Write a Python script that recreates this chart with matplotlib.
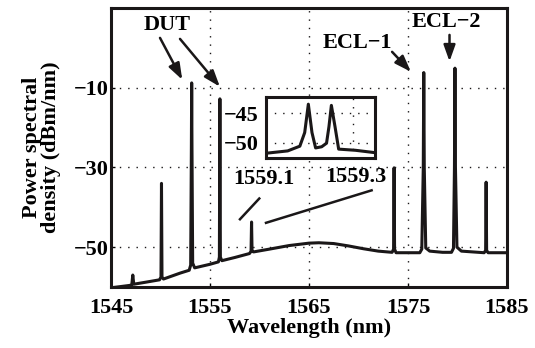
import matplotlib
matplotlib.use('Agg')
import matplotlib.pyplot as plt

# main spectrum (nm, dBm/nm)
wavelength = [1545.0, 1546.9, 1547.1, 1547.2, 1547.3, 1548.5, 1549.9, 1550.05, 1550.1, 1550.15,
              1550.3, 1552.0, 1552.9, 1553.05, 1553.12, 1553.15, 1553.18, 1553.25, 1553.45, 1555.0,
              1555.85, 1555.95, 1556.0, 1556.05, 1556.2, 1557.5, 1559.0, 1559.15, 1559.2, 1559.25,
              1559.4, 1561.0, 1563.0, 1565.0, 1566.0, 1567.5, 1569.0, 1570.5, 1572.0, 1573.4,
              1573.55, 1573.6, 1573.65, 1573.8, 1576.2, 1576.4, 1576.55, 1576.6, 1576.65, 1576.8,
              1577.2, 1578.5, 1579.4, 1579.6, 1579.7, 1579.75, 1579.8, 1579.95, 1580.4, 1582.7,
              1582.85, 1582.9, 1582.95, 1583.1, 1585.0]
power = [-60.2, -59.6, -59.4, -57.0, -59.3, -58.8, -58.2, -57.5, -34.0, -57.5,
         -58.0, -56.5, -55.8, -54.5, -25.0, -8.8, -25.0, -54.0, -55.2, -54.3,
         -53.7, -52.5, -12.8, -52.5, -53.4, -52.6, -51.6, -51.0, -43.7, -51.0,
         -51.2, -50.5, -49.6, -49.0, -48.9, -49.1, -49.7, -50.4, -51.0, -51.3,
         -50.5, -30.1, -50.5, -51.4, -51.4, -50.5, -30.0, -6.2, -30.0, -50.2,
         -51.0, -51.3, -51.3, -50.3, -30.0, -5.1, -30.0, -50.0, -51.0, -51.4,
         -50.8, -33.7, -50.8, -51.4, -51.4]

# zoomed view around 1559.1 / 1559.3 nm
inset_wl = [1558.75, 1558.93, 1559.03, 1559.07, 1559.10, 1559.13, 1559.16, 1559.21, 1559.25,
            1559.27, 1559.29, 1559.32, 1559.35, 1559.49, 1559.65]
inset_pw = [-51.8, -51.4, -50.6, -48.3, -43.5, -48.3, -50.9, -50.7, -50.1,
            -47.3, -43.7, -47.3, -51.1, -51.3, -51.7]

x_ticks = [1545, 1555, 1565, 1575, 1585]
y_ticks = [-50, -30, -10]
inset_y_ticks = [-50, -45]

plt.rcParams['font.family'] = ['Liberation Serif', 'DejaVu Serif']
plt.rcParams['font.weight'] = 'bold'
plt.rcParams['axes.unicode_minus'] = True

FS = 16
INK = '#1a1718'

fig = plt.figure(figsize=(5.35, 3.48), dpi=100)
ax = fig.add_axes([0.2075, 0.1753, 0.740, 0.8017])

ax.plot(wavelength, power, color=INK, lw=2.2, solid_joinstyle='round', zorder=3)
ax.set_xlim(1545, 1585)
ax.set_ylim(-60, 10)
ax.set_xticks(x_ticks)
ax.set_yticks(y_ticks)
ax.tick_params(direction='in', length=3, width=1, labelsize=FS, pad=2)
ax.tick_params(axis='x', pad=8)
ax.grid(True, color=INK, linestyle=(0, (1, 5)), lw=1)
for s in ax.spines.values():
    s.set_linewidth(2.2)
    s.set_color(INK)

ax.set_xlabel('Wavelength (nm)', fontsize=FS, fontweight='bold', labelpad=0)
ax.set_ylabel('Power spectral\ndensity (dBm/nm)', fontsize=FS, fontweight='bold',
              linespacing=0.92, labelpad=9)

arrow = dict(arrowstyle='-|>,head_length=0.7,head_width=0.25', lw=1.8,
             color=INK, shrinkA=0, shrinkB=0, mutation_scale=14)
ax.text(1550.66, 5.75, 'DUT', ha='center', va='center', fontsize=FS, fontweight='bold')
ax.annotate('', xy=(1552.2, -8.0), xytext=(1549.95, 2.5), arrowprops=arrow)
ax.annotate('', xy=(1556.0, -9.75), xytext=(1551.97, 2.25), arrowprops=arrow)
ax.text(1569.85, 1.25, 'ECL\u22121', ha='center', va='center', fontsize=FS, fontweight='bold')
ax.annotate('', xy=(1575.3, -6.0), xytext=(1573.4, -1.0), arrowprops=arrow)
ax.text(1578.9, 6.5, 'ECL\u22122', ha='center', va='center', fontsize=FS, fontweight='bold')
ax.annotate('', xy=(1579.2, -3.4), xytext=(1579.2, 3.25), arrowprops=arrow)

ax.text(1560.45, -33.0, '1559.1', ha='center', va='center', fontsize=FS, fontweight='bold')
ax.text(1569.7, -32.5, '1559.3', ha='center', va='center', fontsize=FS, fontweight='bold')
ax.plot([1558.03, 1559.98], [-43.0, -37.8], color=INK, lw=1.8)
ax.plot([1560.66, 1571.33], [-43.9, -35.75], color=INK, lw=1.8)

# inset
axi = fig.add_axes([0.497, 0.546, 0.204, 0.175])
axi.plot(inset_wl, inset_pw, color=INK, lw=2.2, solid_joinstyle='round')
axi.set_xlim(1558.75, 1559.65)
axi.set_ylim(-52.6, -42.3)
axi.set_xticks([1559.47])
axi.set_xticklabels([])
axi.set_yticks(inset_y_ticks)
axi.tick_params(direction='in', length=0, labelsize=FS, pad=5)
axi.grid(True, color=INK, linestyle=(0, (1, 5)), lw=1)
for s in axi.spines.values():
    s.set_linewidth(2.2)
    s.set_color(INK)

fig.savefig('out.png', dpi=100, facecolor='white')
